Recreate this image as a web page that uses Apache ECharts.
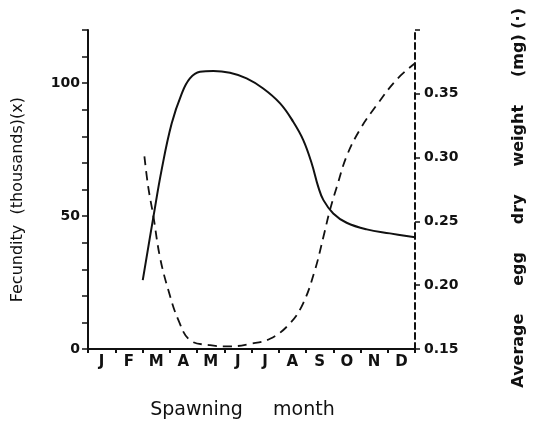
<!DOCTYPE html>
<html lang="en">
<head>
<meta charset="UTF-8">
<title>Fecundity and egg weight</title>
<script src="https://cdn.jsdelivr.net/npm/echarts@6/dist/echarts.min.js"></script>
<style>
  html, body { margin: 0; padding: 0; background: #fff; }
</style>
</head>
<body>
<div id="main" style="width:537px;height:421px;"></div>
<script type="text/javascript">
// month labels (category axis, labels sit between ticks)
var months = ['J', 'F', 'M', 'A', 'M', 'J', 'J', 'A', 'S', 'O', 'N', 'D'];

// fecundity (thousands), solid line - x in months from start of Jan
var fecX = [2.01, 2.40, 2.70, 3.07, 3.44, 3.74, 4.11, 4.60, 5.21, 5.82, 6.43, 7.05, 7.53, 7.90, 8.21, 8.45, 8.64, 9.00, 9.49, 10.23, 11.08, 12.0];
var fecY = [25.9, 49.7, 67.3, 84.8, 96.1, 101.8, 104.3, 104.6, 103.9, 101.8, 98.0, 92.4, 85.5, 78.6, 69.8, 61.0, 56.0, 51.0, 47.5, 45.0, 43.5, 42.0];

// average egg dry weight (mg), dashed line
var eggX = [2.07, 2.21, 2.40, 2.64, 2.95, 3.31, 3.74, 4.48, 5.21, 5.94, 6.68, 7.41, 7.90, 8.33, 8.64, 8.88, 9.13, 9.49, 9.98, 10.59, 11.32, 12.0];
var eggY = [0.301, 0.277, 0.254, 0.222, 0.196, 0.173, 0.157, 0.153, 0.152, 0.154, 0.158, 0.170, 0.186, 0.212, 0.238, 0.259, 0.277, 0.301, 0.322, 0.341, 0.361, 0.374];

function pairs(xs, ys) {
    var out = [];
    for (var i = 0; i < xs.length; i++) out.push([xs[i], ys[i]]);
    return out;
}

var font = 'DejaVu Sans';
var ink = '#111';

var myChart = echarts.init(document.getElementById('main'));
var option = {
    animation: false,
    backgroundColor: '#fff',
    // keep the plot box fixed even though the right-hand name runs off the top
    grid: { left: 88, right: 122, top: 30, bottom: 72, outerBoundsMode: 'none' },
    xAxis: [{
        type: 'category',
        data: months,
        boundaryGap: true,
        // trailing spaces shift the visible text a bit to the left
        name: 'Spawning     month   ',
        nameLocation: 'middle',
        nameGap: 52,
        nameTextStyle: { fontFamily: font, fontSize: 19, color: ink },
        axisLine: { lineStyle: { color: ink, width: 2 } },
        axisTick: { show: true, length: 4, lineStyle: { color: ink, width: 2 } },
        axisLabel: { fontFamily: font, fontSize: 15, fontWeight: 'bold', color: ink, margin: 6 },
        splitLine: { show: false }
    }, {
        type: 'value',
        min: 0,
        max: 12,
        show: false
    }],
    yAxis: [{
        type: 'value',
        position: 'left',
        min: 0,
        max: 120,
        interval: 10,
        // trailing spaces nudge the visible text down a little
        name: 'Fecundity  (thousands)(x)    ',
        nameLocation: 'middle',
        nameRotate: 90,
        nameGap: 62,
        nameTextStyle: { fontFamily: font, fontSize: 16, color: ink },
        axisLine: { show: true, lineStyle: { color: ink, width: 2 } },
        axisTick: { show: true, length: 6, lineStyle: { color: ink, width: 1.5 } },
        axisLabel: {
            fontFamily: font, fontSize: 14, fontWeight: 'bold', color: ink, margin: 8,
            formatter: function (v) { return v % 50 === 0 ? String(v) : ''; }
        },
        splitLine: { show: false }
    }, {
        type: 'value',
        position: 'right',
        min: 0.15,
        max: 0.40,
        interval: 0.05,
        name: 'Average     egg     dry     weight     (mg) (·)   ',
        nameLocation: 'middle',
        nameRotate: 90,
        nameGap: 96,
        nameTextStyle: { fontFamily: font, fontSize: 16, fontWeight: 'bold', color: ink },
        axisLine: { show: true, lineStyle: { color: ink, width: 2, type: [6, 4] } },
        axisTick: { show: true, length: 5, lineStyle: { color: ink, width: 1.5 } },
        axisLabel: {
            fontFamily: font, fontSize: 14, fontWeight: 'bold', color: ink, margin: 9,
            formatter: function (v) { return v > 0.37 ? '' : v.toFixed(2); }
        },
        splitLine: { show: false }
    }],
    series: [{
        type: 'line',
        name: 'Fecundity',
        xAxisIndex: 1,
        yAxisIndex: 0,
        data: pairs(fecX, fecY),
        smooth: 0.4,
        showSymbol: false,
        lineStyle: { color: ink, width: 2 }
    }, {
        type: 'line',
        name: 'Egg dry weight',
        xAxisIndex: 1,
        yAxisIndex: 1,
        data: pairs(eggX, eggY),
        smooth: 0.4,
        showSymbol: false,
        lineStyle: { color: ink, width: 1.8, type: [9, 6] }
    }]
};
myChart.setOption(option);
</script>
</body>
</html>
